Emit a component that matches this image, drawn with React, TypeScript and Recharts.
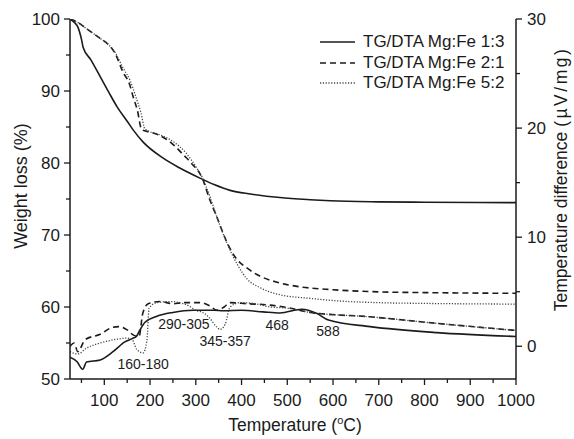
import { LineChart, Line, XAxis, YAxis, Legend, ReferenceDot, Label } from "recharts";

const FONT = '"Liberation Sans", Arial, Helvetica, sans-serif';
const INK = "#1b1b1b";

// TG curves: [temperature °C, weight loss %]
const tg13: [number, number][] = [
  [25, 100], [35, 99.5], [42, 98.9], [50, 97.2], [54, 96], [70, 94.4], [91, 92],
  [110, 89.8], [128, 87.8], [150, 85.8], [163, 84.6], [185, 82.9], [228, 80.7],
  [265, 79.3], [309, 77.9], [340, 77], [375, 76.2], [420, 75.7], [484, 75.2],
  [550, 74.9], [594, 74.75], [700, 74.6], [800, 74.55], [1000, 74.5],
];
const tg21: [number, number][] = [
  [25, 100], [40, 99.6], [58, 98.8], [91, 97.3], [108, 96.5], [123, 95.3], [141, 92.6],
  [156, 90.8], [163, 89.2], [172, 87.4], [182, 84.6], [200, 84.3], [222, 83.8],
  [250, 82.6], [275, 81], [290, 80], [314, 77.9], [330, 75], [346, 72.5], [368, 69],
  [390, 66.6], [410, 65.5], [440, 64.3], [480, 63.4], [528, 62.8], [600, 62.4],
  [700, 62.1], [800, 62], [1000, 61.9],
];
const tg52: [number, number][] = [
  [25, 100], [40, 99.6], [58, 98.8], [91, 97.3], [108, 96.5], [123, 95.4], [141, 93.2],
  [156, 91.5], [170, 89], [180, 87], [189, 84.7], [222, 83.9], [250, 83], [280, 81.3],
  [300, 79.5], [314, 78], [330, 75.5], [346, 72.5], [368, 68.9], [390, 66],
  [412, 63.9], [440, 62.7], [484, 61.7], [550, 61.2], [600, 60.9], [700, 60.6],
  [800, 60.5], [1000, 60.4],
];

// DTA curves: [temperature °C, µV/mg]
const dta13: [number, number][] = [
  [25, -1], [40, -1.4], [53, -2.1], [61, -1.45], [91, -1.25], [119, -0.5], [145, 0.4],
  [161, 0.7], [170, 0.9], [178, 1.5], [189, 2.2], [215, 2.75], [250, 3.1], [294, 3.3],
  [340, 3.3], [360, 3.25], [400, 3.3], [447, 3.15], [484, 3.05], [532, 3.4],
  [565, 3], [590, 2.4], [681, 1.8], [827, 1.25], [1000, 0.9],
];
const dta21: [number, number][] = [
  [25, 0], [34, 0.3], [42, -0.5], [58, 0.6], [91, 1.1], [119, 1.75], [132, 1.8],
  [150, 1.5], [165, 1], [176, 0.9], [184, 3], [196, 3.9], [222, 4.1], [250, 3.9],
  [272, 4], [309, 4], [331, 3.7], [346, 3.3], [362, 3.6], [375, 4], [412, 3.9],
  [456, 3.8], [500, 3.55], [550, 3.1], [681, 2.7], [827, 2.1], [1000, 1.45],
];
const dta52: [number, number][] = [
  [25, -0.5], [42, -0.7], [62, -0.15], [91, 0.3], [128, 0.65], [150, 0.75], [161, 0.6],
  [171, -0.3], [185, -0.6], [193, 0.5], [198, 3.5], [215, 4], [244, 4.1], [280, 3.8],
  [300, 3.3], [315, 3.1], [330, 2.6], [345, 1.8], [353, 1.55], [364, 2], [375, 3.6],
  [397, 4], [430, 3.9], [462, 3.6], [500, 3.5], [550, 3.1], [681, 2.7], [827, 2.1],
  [1000, 1.45],
];

// peak annotations: [temperature, µV/mg, text]
const peaks: [number, number, string][] = [
  [185, -1.6, "160-180"],
  [274, 2.05, "290-305"],
  [364, 0.5, "345-357"],
  [478, 1.95, "468"],
  [589, 1.4, "588"],
];

const xTicks = [50, 100, 150, 200, 250, 300, 350, 400, 450, 500, 550, 600, 650, 700, 750, 800, 850, 900, 950, 1000];
const leftTicks = [50, 55, 60, 65, 70, 75, 80, 85, 90, 95, 100];
const rightTicks = [0, 5, 10, 15, 20, 25, 30];

const series = [
  { name: "TG/DTA Mg:Fe 1:3", tg: tg13, dta: dta13, dash: undefined, width: 1.6, color: INK },
  { name: "TG/DTA Mg:Fe 2:1", tg: tg21, dta: dta21, dash: "6 4", width: 1.6, color: INK },
  { name: "TG/DTA Mg:Fe 5:2", tg: tg52, dta: dta52, dash: "1.2 1.6", width: 1.3, color: "#444" },
];

const rows = (pts: [number, number][]) => pts.map(([t, v]) => ({ t, v }));

const txt = { fontFamily: FONT, fill: INK };

function BottomTick({ x, y, payload }: any) {
  const major = payload.value % 100 === 0;
  return (
    <g>
      <line x1={x} x2={x} y1={y} y2={y + (major ? 6 : 4)} stroke={INK} strokeWidth={1.3} />
      {major && (
        <text x={x} y={y + 27} textAnchor="middle" fontSize={17} {...txt}>
          {payload.value}
        </text>
      )}
    </g>
  );
}

function TopTick({ x, y, payload }: any) {
  const major = payload.value % 100 === 0;
  return <line x1={x} x2={x} y1={y} y2={y + (major ? 6 : 4)} stroke={INK} strokeWidth={1.3} />;
}

function LeftTick({ x, y, payload }: any) {
  const major = payload.value % 10 === 0;
  return (
    <g>
      <line x1={x - (major ? 6 : 4)} x2={x} y1={y} y2={y} stroke={INK} strokeWidth={1.3} />
      {major && (
        <text x={x - 10} y={y} dy="0.36em" textAnchor="end" fontSize={17} {...txt}>
          {payload.value}
        </text>
      )}
    </g>
  );
}

function RightTick({ x, y, payload }: any) {
  const major = payload.value % 10 === 0;
  return (
    <g>
      <line x1={x} x2={x + (major ? 6 : 4)} y1={y} y2={y} stroke={INK} strokeWidth={1.3} />
      {major && (
        <text x={x + 11} y={y} dy="0.36em" textAnchor="start" fontSize={17} {...txt}>
          {payload.value}
        </text>
      )}
    </g>
  );
}

function LegendBox() {
  return (
    <div style={{ fontFamily: FONT, fontSize: 17, color: INK }}>
      {series.map((s) => (
        <div key={s.name} style={{ display: "flex", alignItems: "center", height: 20.5 }}>
          <svg width={47} height={20}>
            <line x1={4} x2={39} y1={10} y2={10} stroke={s.color} strokeWidth={s.width} strokeDasharray={s.dash} />
          </svg>
          <span style={{ whiteSpace: "nowrap" }}>{s.name}</span>
        </div>
      ))}
    </div>
  );
}

export default function App() {
  return (
    <div style={{ position: "absolute", left: 0, top: 0, background: "#fff" }}>
      <LineChart width={574} height={439} margin={{ top: 19, right: 0, bottom: 0, left: 0 }}>
        <XAxis
          xAxisId="b"
          dataKey="t"
          type="number"
          domain={[25, 1000]}
          ticks={xTicks}
          interval={0}
          height={60}
          tickSize={0}
          tickMargin={0}
          tickLine={false}
          tick={BottomTick}
          axisLine={{ stroke: INK, strokeWidth: 1.5 }}
          allowDataOverflow
        >
          <Label
            content={() => (
              <text x={295} y={431} textAnchor="middle" fontSize={17.5} {...txt}>
                <tspan>Temperature (</tspan>
                <tspan dy={-7} fontSize={11}>o</tspan>
                <tspan dy={7}>C)</tspan>
              </text>
            )}
          />
        </XAxis>
        <XAxis
          xAxisId="top"
          orientation="top"
          type="number"
          domain={[25, 1000]}
          ticks={xTicks}
          interval={0}
          height={0}
          tickSize={0}
          tickMargin={0}
          tickLine={false}
          tick={TopTick}
          axisLine={{ stroke: INK, strokeWidth: 1.5 }}
          allowDataOverflow
        />
        <YAxis
          yAxisId="left"
          domain={[50, 100]}
          ticks={leftTicks}
          interval={0}
          width={70}
          tickSize={0}
          tickMargin={0}
          tickLine={false}
          tick={LeftTick}
          axisLine={{ stroke: INK, strokeWidth: 1.5 }}
          allowDataOverflow
        >
          <Label
            content={() => (
              <text x={27} y={186} transform="rotate(-90 27 186)" textAnchor="middle" fontSize={18} {...txt}>
                Weight loss (%)
              </text>
            )}
          />
        </YAxis>
        <YAxis
          yAxisId="right"
          orientation="right"
          domain={[-3, 30]}
          ticks={rightTicks}
          interval={0}
          width={58}
          tickSize={0}
          tickMargin={0}
          tickLine={false}
          tick={RightTick}
          axisLine={{ stroke: INK, strokeWidth: 1.5 }}
          allowDataOverflow
        >
          <Label
            content={() => (
              <text x={567} y={179} transform="rotate(-90 567 179)" textAnchor="middle" fontSize={17.5} {...txt}>
                <tspan>Temperature difference </tspan>
                <tspan letterSpacing={2.5}>(µV/mg)</tspan>
              </text>
            )}
          />
        </YAxis>

        {series.map((s) => (
          <Line
            key={"tg" + s.name}
            xAxisId="b"
            yAxisId="left"
            data={rows(s.tg)}
            dataKey="v"
            type="monotone"
            stroke={s.color}
            strokeWidth={s.width}
            strokeDasharray={s.dash}
            dot={false}
            activeDot={false}
            legendType="none"
            isAnimationActive={false}
          />
        ))}
        {series.map((s) => (
          <Line
            key={"dta" + s.name}
            xAxisId="b"
            yAxisId="right"
            data={rows(s.dta)}
            dataKey="v"
            type="monotone"
            stroke={s.color}
            strokeWidth={s.width}
            strokeDasharray={s.dash}
            dot={false}
            activeDot={false}
            legendType="none"
            isAnimationActive={false}
          />
        ))}

        {peaks.map(([t, d, label]) => (
          <ReferenceDot
            key={label}
            xAxisId="b"
            yAxisId="right"
            x={t}
            y={d}
            r={0}
            fill="none"
            stroke="none"
            label={{ value: label, position: "center", fontSize: 14, fontFamily: FONT, fill: INK }}
          />
        ))}

        <Legend
          layout="vertical"
          align="center"
          verticalAlign="middle"
          wrapperStyle={{ left: 316, top: 32, width: 240 }}
          content={LegendBox}
        />
      </LineChart>
    </div>
  );
}
